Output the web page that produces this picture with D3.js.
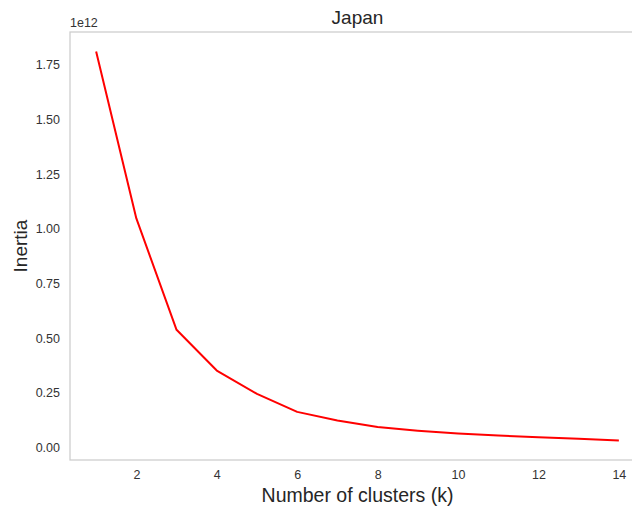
<!DOCTYPE html>
<html>
<head>
<meta charset="utf-8">
<script src="https://cdn.jsdelivr.net/npm/d3@7"></script>
<style>
  html, body { margin: 0; padding: 0; background: #fff; overflow: hidden; }
  svg { display: block; font-family: "Liberation Sans", Arial, sans-serif; }
</style>
</head>
<body>
<svg id="chart" width="632" height="509"></svg>
<script>
'use strict';

// Elbow curve for Japan: inertia (in units of 1e12) per k
const clusters = [1, 2, 3, 4, 5, 6, 7, 8, 9, 10, 11, 12, 13, 14];
const inertia  = [1.81, 1.047, 0.538, 0.352, 0.245, 0.163, 0.124, 0.094, 0.077, 0.064, 0.055, 0.047, 0.040, 0.032];
const xTicks   = [2, 4, 6, 8, 10, 12, 14];
const yTicks   = [0, 0.25, 0.5, 0.75, 1.0, 1.25, 1.5, 1.75];

const LEFT = 70, RIGHT = 645, TOP = 32, BOTTOM = 460;
const SPINE = '#cccccc';
const TEXT  = '#333333';

const svg = d3.select('#chart');

const x = d3.scaleLinear().domain([0.35, 14.65]).range([LEFT, RIGHT]);
const yMin = d3.min(inertia), yMax = d3.max(inertia);
const pad = (yMax - yMin) * 0.05;
const y = d3.scaleLinear().domain([yMin - pad, yMax + pad]).range([BOTTOM, TOP]);

// ── Frame ─────────────────────────────────────────────
svg.append('rect')
  .attr('x', LEFT).attr('y', TOP)
  .attr('width', RIGHT - LEFT).attr('height', BOTTOM - TOP)
  .attr('fill', 'none')
  .attr('stroke', SPINE)
  .attr('stroke-width', 1.25);

// ── Axes (no tick marks) ──────────────────────────────
const xAxis = svg.append('g')
  .attr('transform', `translate(0,${BOTTOM})`)
  .call(d3.axisBottom(x).tickValues(xTicks).tickSize(0).tickPadding(10).tickFormat(d3.format('d')));

const yAxis = svg.append('g')
  .attr('transform', `translate(${LEFT},0)`)
  .call(d3.axisLeft(y).tickValues(yTicks).tickSize(0).tickPadding(10).tickFormat(d3.format('.2f')));

[xAxis, yAxis].forEach(g => {
  g.select('.domain').remove();
  g.selectAll('text')
    .attr('fill', TEXT)
    .style('font-family', '"Liberation Sans", Arial, sans-serif')
    .style('font-size', '12.5px');
});

// ── Line ──────────────────────────────────────────────
const line = d3.line()
  .x((d, i) => x(clusters[i]))
  .y(d => y(d));

svg.append('path')
  .datum(inertia)
  .attr('d', line)
  .attr('fill', 'none')
  .attr('stroke', '#ff0000')
  .attr('stroke-width', 2)
  .attr('stroke-linejoin', 'round');

// ── Labels ────────────────────────────────────────────
svg.append('text')
  .attr('x', LEFT).attr('y', 27)
  .attr('fill', TEXT)
  .style('font-size', '12.5px')
  .text('1e12');

svg.append('text')
  .attr('x', (LEFT + RIGHT) / 2).attr('y', 24)
  .attr('text-anchor', 'middle')
  .attr('fill', '#262626')
  .style('font-size', '19px')
  .text('Japan');

svg.append('text')
  .attr('x', (LEFT + RIGHT) / 2).attr('y', 502)
  .attr('text-anchor', 'middle')
  .attr('fill', '#262626')
  .style('font-size', '19.5px')
  .text('Number of clusters (k)');

svg.append('text')
  .attr('transform', `translate(27,${(TOP + BOTTOM) / 2}) rotate(-90)`)
  .attr('text-anchor', 'middle')
  .attr('fill', '#262626')
  .style('font-size', '19px')
  .text('Inertia');
</script>
</body>
</html>
